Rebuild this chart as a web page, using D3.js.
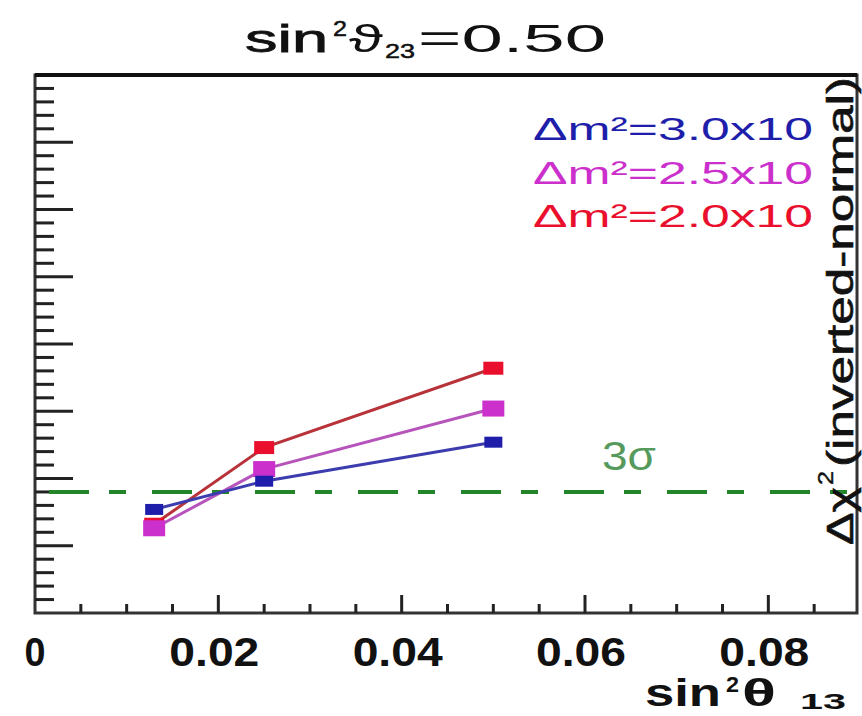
<!DOCTYPE html>
<html>
<head>
<meta charset="utf-8">
<script src="https://cdn.jsdelivr.net/npm/d3@7"></script>
<style>
  html, body { margin: 0; padding: 0; background: #fff; }
  svg { display: block; font-family: "Liberation Sans", Arial, sans-serif; }
</style>
</head>
<body>
<svg id="chart" width="862" height="716"></svg>
<script>
// sin^2(theta13) grid points
const sin2theta13 = [0.013, 0.025, 0.05];
// Δχ²(inverted-normal) for each Δm² value
const seriesNames = ["Δm²=2.0x10", "Δm²=2.5x10", "Δm²=3.0x10"];
const dchi2_dm20 = [6.6, 12.3, 18.2];
const dchi2_dm25 = [6.3, 10.7, 15.2];
const dchi2_dm30 = [7.7, 9.8, 12.7];
const xTickValues = [0, 0.02, 0.04, 0.06, 0.08];
const xTickLabels = ["0", "0.02", "0.04", "0.06", "0.08"];
const threeSigma = 9;

const svg = d3.select("#chart");
const frame = { left: 35, right: 857, top: 75, bottom: 613 };

const x = d3.scaleLinear().domain([0, 0.09]).range([frame.left, frame.right + 3]);
const y = d3.scaleLinear().domain([0, 40]).range([frame.bottom, frame.top]);

const series = [
  { name: seriesNames[0], values: dchi2_dm20, line: "#b8323a", marker: "#ea0f2c", w: 20, h: 13, ly: 227 },
  { name: seriesNames[1], values: dchi2_dm25, line: "#b654bc", marker: "#cc30cc", w: 22, h: 16, ly: 184 },
  { name: seriesNames[2], values: dchi2_dm30, line: "#3c3cae", marker: "#1e1eaa", w: 18, h: 11, ly: 140 }
];

// stretched text helper (wide ROOT-style lettering)
function txt(g, str, px, py, size, len, opts = {}) {
  const t = g.append("text")
    .attr("x", px).attr("y", py)
    .attr("font-size", size)
    .attr("font-weight", opts.weight || "normal")
    .attr("fill", opts.fill || "#111")
    .text(str);
  if (len) t.attr("textLength", len).attr("lengthAdjust", "spacingAndGlyphs");
  if (opts.anchor) t.attr("text-anchor", opts.anchor);
  if (opts.stroke) t.attr("stroke", opts.fill || "#111").attr("stroke-width", opts.stroke);
  return t;
}

// frame
svg.append("rect")
  .attr("x", frame.left).attr("y", frame.top)
  .attr("width", frame.right - frame.left).attr("height", frame.bottom - frame.top)
  .attr("fill", "none").attr("stroke", "#333").attr("stroke-width", 3);
svg.append("line")
  .attr("x1", frame.left).attr("x2", frame.right)
  .attr("y1", frame.top).attr("y2", frame.top)
  .attr("stroke", "#111").attr("stroke-width", 4);

// y axis: ticks only, no labels
const yMinor = d3.range(1, 40, 1);
svg.append("g").selectAll("line").data(yMinor).join("line")
  .attr("x1", frame.left).attr("x2", d => frame.left + (d % 5 === 0 ? 38 : 19))
  .attr("y1", d => y(d)).attr("y2", d => y(d))
  .attr("stroke", "#222").attr("stroke-width", 3);

// x axis ticks
const xMinor = d3.range(0.005, 0.09, 0.005);
svg.append("g").selectAll("line").data(xMinor).join("line")
  .attr("x1", d => x(d)).attr("x2", d => x(d))
  .attr("y1", frame.bottom)
  .attr("y2", d => frame.bottom - (Math.abs(d / 0.02 - Math.round(d / 0.02)) < 1e-6 ? 18 : 9))
  .attr("stroke", "#222").attr("stroke-width", 3);

// x tick labels
const xl = svg.append("g");
xTickValues.forEach((v, i) => {
  const s = xTickLabels[i];
  txt(xl, s, x(v) - (i ? 4 : 0), 666, 40, s.length > 1 ? 90 : 21, { weight: "bold", anchor: "middle", fill: "#111" });
});

// 3 sigma reference line
svg.append("line")
  .attr("x1", frame.left + 2).attr("x2", frame.right - 2)
  .attr("y1", y(threeSigma)).attr("y2", y(threeSigma))
  .attr("stroke", "#22852a").attr("stroke-width", 4)
  .attr("stroke-dasharray", "40,20,17,26").attr("stroke-dashoffset", 91);
txt(svg, "3σ", 602, 470, 40, 54, { fill: "#559a5c" });

// series lines and markers
const line = d3.line().x((d, i) => x(sin2theta13[i])).y(d => y(d));
series.forEach(s => {
  svg.append("path").datum(s.values)
    .attr("d", line).attr("fill", "none")
    .attr("stroke", s.line).attr("stroke-width", 3);
});
series.forEach(s => {
  svg.append("g").selectAll("rect").data(s.values).join("rect")
    .attr("x", (d, i) => x(sin2theta13[i]) - s.w / 2)
    .attr("y", d => y(d) - s.h / 2)
    .attr("width", s.w).attr("height", s.h)
    .attr("fill", s.marker);
});

// legend
const lg = svg.append("g");
series.forEach(s => {
  txt(lg, s.name, 533, s.ly, 32, 280, { fill: s.marker });
});

// title sin²ϑ₂₃=0.50
const tg = svg.append("g");
txt(tg, "sin", 245, 52, 38, 83, { stroke: 0.8 });
txt(tg, "2", 333, 36, 22, 14, { stroke: 0.5 });
txt(tg, "ϑ", 349, 52, 38, 34);
txt(tg, "23", 385, 58, 20, 30, { stroke: 0.5 });
txt(tg, "=0.50", 418, 52, 38, 188);

// x axis title sin²θ₁₃
const xt = svg.append("g");
txt(xt, "sin", 645, 706, 38, 76, { weight: "bold" });
txt(xt, "2", 726, 692, 22, 13, { weight: "bold" });
txt(xt, "θ", 742, 706, 38, 34, { weight: "bold" });
txt(xt, "13", 800, 709, 22, 46, { weight: "bold" });

// y axis title Δχ²(inverted-normal), rotated on the right side
const yt = svg.append("g").attr("transform", "translate(853,545) rotate(-90)");
txt(yt, "Δχ", 0, 0, 36, 58, { stroke: 0.6 });
txt(yt, "2", 60, -20, 22, 14, { stroke: 0.4 });
txt(yt, "(inverted-normal)", 78, 0, 36, 390, { stroke: 0.6 });
</script>
</body>
</html>
